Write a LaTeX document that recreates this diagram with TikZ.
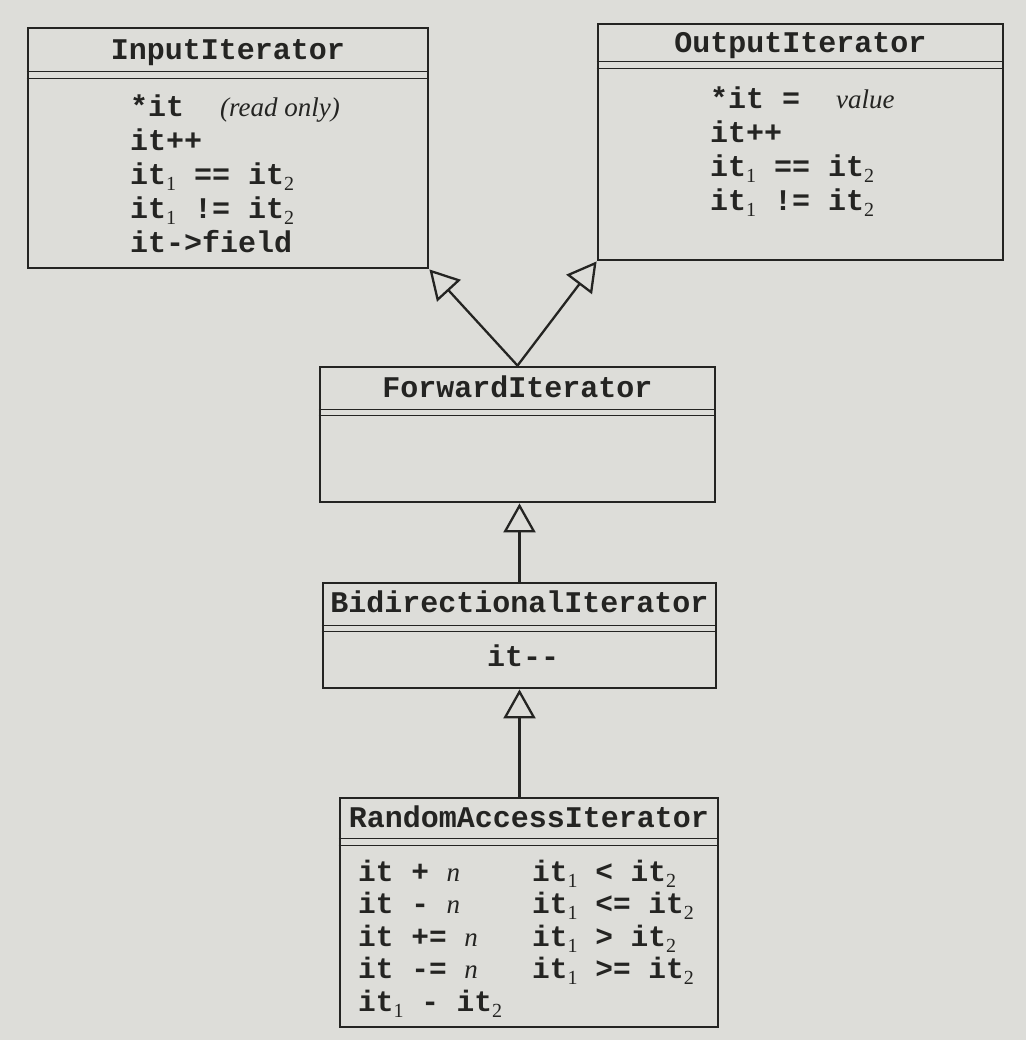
\documentclass[tikz,border=0pt]{standalone}
\usepackage{fontspec}
\setmainfont{Liberation Serif}
\setmonofont{Liberation Mono}
\usepackage{xcolor}
\usepackage{tikz}
\usetikzlibrary{arrows.meta}
\definecolor{paper}{RGB}{221,221,217}
\definecolor{ink}{RGB}{36,36,34}
\newcommand\itn[1]{it\raisebox{-6pt}{\rmfamily\mdseries\fontsize{20}{20}\selectfont #1}}
\newcommand\vv[1]{{\rmfamily\mdseries\itshape\fontsize{27}{34}\selectfont #1}}
\tikzset{
  classbox/.style={
    draw=ink,
    rectangle,
    line width=2.8pt,
    inner sep=0pt
  },
  classname/.style={
    text=ink,
    inner sep=0pt,
    font=\fontsize{30}{34}\selectfont\ttfamily\bfseries
  },
  members/.style={
    text=ink,
    inner sep=0pt,
    font=\fontsize{30}{34}\selectfont\ttfamily\bfseries
  },
  sepline/.style={
    draw=ink,
    line width=1.7pt
  },
  inherit/.style={
    draw=ink,
    line width=2.3pt,
    -{Triangle[open, length=29pt, width=32pt]}
  }
}

\begin{document}
\begin{tikzpicture}[x=1pt, y=-1pt]
  \useasboundingbox (0,0) rectangle (1026,1040);
  \fill[paper] (0,0) rectangle (1026,1040);

  % the five classes
  \node[classbox, minimum width=400pt, minimum height=240pt] (input) at (228,148) {};
  \node[classbox, minimum width=405pt, minimum height=236pt] (output) at (800.5,142) {};
  \node[classbox, minimum width=395pt, minimum height=135pt] (forward) at (517.5,434.5) {};
  \node[classbox, minimum width=393pt, minimum height=105pt] (bidir) at (519.5,635.5) {};
  \node[classbox, minimum width=378pt, minimum height=229pt] (random) at (529,912.5) {};

  \node[classname, anchor=base] (input-name) at ([yshift=-33pt]input.north) {InputIterator};
  \node[classname, anchor=base] (output-name) at ([yshift=-30pt]output.north) {OutputIterator};
  \node[classname, anchor=base] (forward-name) at ([yshift=-32pt]forward.north) {ForwardIterator};
  \node[classname, anchor=base] (bidir-name) at ([yshift=-31pt]bidir.north) {BidirectionalIterator};
  \node[classname, anchor=base] (random-name) at ([yshift=-31pt]random.north) {RandomAccessIterator};

  % double rule under each name
  \draw[sepline] ([yshift=-45pt]input.north west) -- ([yshift=-45pt]input.north east);
  \draw[sepline] ([yshift=-52pt]input.north west) -- ([yshift=-52pt]input.north east);
  \draw[sepline] ([yshift=-39pt]output.north west) -- ([yshift=-39pt]output.north east);
  \draw[sepline] ([yshift=-46pt]output.north west) -- ([yshift=-46pt]output.north east);
  \draw[sepline] ([yshift=-44pt]forward.north west) -- ([yshift=-44pt]forward.north east);
  \draw[sepline] ([yshift=-50pt]forward.north west) -- ([yshift=-50pt]forward.north east);
  \draw[sepline] ([yshift=-44pt]bidir.north west) -- ([yshift=-44pt]bidir.north east);
  \draw[sepline] ([yshift=-50pt]bidir.north west) -- ([yshift=-50pt]bidir.north east);
  \draw[sepline] ([yshift=-42pt]random.north west) -- ([yshift=-42pt]random.north east);
  \draw[sepline] ([yshift=-49pt]random.north west) -- ([yshift=-49pt]random.north east);

  % operations
  \node[members, anchor=base west] (input-ops) at (130,117) {%
    \begin{tabular}[t]{@{}l@{}}
      *it~ \vv{(read only)}\\
      it++\\
      \itn{1} == \itn{2}\\
      \itn{1} != \itn{2}\\
      it->field
    \end{tabular}};
  \node[members, anchor=base west] (output-ops) at (710,109) {%
    \begin{tabular}[t]{@{}l@{}}
      *it = ~\vv{value}\\
      it++\\
      \itn{1} == \itn{2}\\
      \itn{1} != \itn{2}
    \end{tabular}};
  \node[members, anchor=base] (bidir-ops) at (523,666) {it-{}-};
  \node[members, anchor=base west, font=\fontsize{29.5}{32.5}\selectfont\ttfamily\bfseries]
    (random-ops) at (358,881) {%
    \begin{tabular}[t]{@{}p{174pt}@{}l@{}}
      it + \vv{n}  & \itn{1} < \itn{2}\\
      it - \vv{n}  & \itn{1} <= \itn{2}\\
      it += \vv{n} & \itn{1} > \itn{2}\\
      it -= \vv{n} & \itn{1} >= \itn{2}\\
      \itn{1} - \itn{2} &
    \end{tabular}};

  % generalisation
  \draw[inherit] (forward.north) -- (input.south east);
  \draw[inherit] (forward.north) -- (output.south west);
  \draw[inherit] (bidir.north) -- (bidir.north |- forward.south);
  \draw[inherit] (random.north -| bidir.south) -- (bidir.south);
\end{tikzpicture}
\end{document}
